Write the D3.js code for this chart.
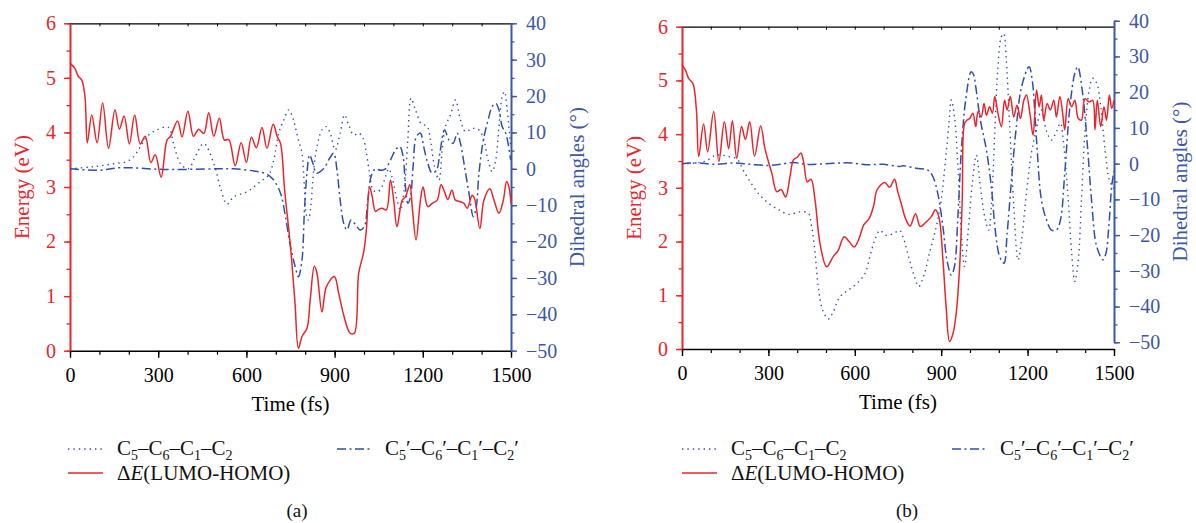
<!DOCTYPE html>
<html>
<head>
<meta charset="utf-8">
<script src="https://cdn.jsdelivr.net/npm/d3@7"></script>
<style>
  html, body { margin: 0; padding: 0; background: #fff; }
  svg { display: block; }
  svg text { font-family: "Liberation Serif", "DejaVu Serif", serif !important; }
</style>
</head>
<body>
<svg id="chart" width="1196" height="523"></svg>
<script>
// ---- data: time (fs), energy gap (eV), dihedral angles (deg) ----
const timeTicks = [0, 300, 600, 900, 1200, 1500];
const energyTicks = [0, 1, 2, 3, 4, 5, 6];
const angleTicks = [-50, -40, -30, -20, -10, 0, 10, 20, 30, 40];

// panel (a)
const aGapTime = [0, 17, 28, 40, 51, 59, 74, 92, 111, 131, 153, 168, 184, 202, 220, 239, 256, 275, 290, 310, 330, 341, 366, 381, 401, 420, 438, 455, 472, 489, 508, 525, 540, 562, 582, 600, 617, 634, 653, 670, 691, 705, 716, 730, 750, 765, 777, 789, 806, 817, 831, 840, 857, 872, 899, 914, 931, 953, 967, 982, 999, 1008, 1019, 1027, 1039, 1047, 1061, 1076, 1090, 1101, 1112, 1130, 1141, 1156, 1164, 1177, 1192, 1201, 1217, 1232, 1249, 1262, 1274, 1285, 1299, 1311, 1328, 1340, 1351, 1368, 1376, 1394, 1408, 1428, 1442, 1459, 1474, 1485, 1493, 1500];
const aGap = [5.27, 5.17, 5.03, 4.96, 4.65, 3.81, 4.32, 3.81, 4.54, 3.71, 4.41, 4.06, 4.30, 3.79, 4.32, 3.79, 3.93, 3.45, 3.59, 3.18, 3.86, 3.92, 4.21, 3.92, 4.39, 3.93, 4.06, 3.98, 4.36, 3.93, 4.26, 3.86, 3.87, 3.39, 3.81, 3.45, 3.91, 3.72, 4.09, 3.71, 4.15, 3.92, 3.80, 2.95, 1.90, 0.90, 0.04, 0.26, 0.41, 0.93, 1.55, 1.42, 0.71, 1.17, 1.36, 1.05, 0.65, 0.32, 0.32, 1.42, 1.81, 2.21, 3.00, 2.85, 2.55, 2.58, 2.61, 2.58, 3.13, 2.76, 2.27, 2.76, 2.82, 3.04, 2.64, 2.03, 2.76, 3.00, 2.64, 2.70, 2.76, 3.04, 2.91, 2.77, 2.94, 2.76, 2.73, 2.70, 2.61, 2.85, 2.79, 2.24, 2.76, 2.97, 2.76, 2.52, 2.76, 3.10, 3.00, 2.70];

const aC5Time = [0, 68, 102, 148, 193, 216, 239, 261, 295, 335, 352, 375, 402, 430, 455, 489, 511, 534, 557, 602, 648, 676, 693, 710, 727, 744, 758, 766, 777, 789, 797, 803, 811, 819, 826, 834, 845, 857, 872, 885, 902, 919, 934, 948, 965, 982, 997, 1008, 1019, 1031, 1047, 1061, 1073, 1084, 1095, 1110, 1124, 1138, 1149, 1160, 1175, 1194, 1215, 1226, 1240, 1255, 1266, 1277, 1295, 1311, 1328, 1345, 1368, 1391, 1408, 1422, 1436, 1448, 1459, 1470, 1478, 1487, 1499];
const aC5 = [0, 0.5, 0.8, 1.4, 2.0, 3.3, 6.0, 8.8, 10.7, 11.4, 7.0, 1.5, 0, 4.0, 7.0, 1.5, -5.0, -9.7, -7.7, -6.3, -3.5, -1.7, 2.4, 9.8, 13.4, 16.2, 14.0, 11.6, 7.9, 4.3, -4.9, -12.2, -14.1, -10.4, -3.1, 3.3, 7.9, 10.7, 11.6, 9.8, 5.2, 9.8, 14.8, 12.0, 9.3, 9.8, 8.4, 4.3, -1.2, -5.8, -6.3, -4.9, -2.2, 0, -2.2, -7.7, -11.3, -4.9, 7.9, 19.4, 16.2, 12.5, 11.6, 7.9, 0.6, -3.1, 5.2, 11.6, 15.0, 18.9, 13.4, 10.2, 11.1, 10.7, 7.9, 2.4, -0.8, 2.4, 11.6, 19.8, 21.2, 16.2, 6.1];

const aC5pTime = [0, 102, 170, 330, 500, 557, 625, 670, 693, 716, 733, 750, 766, 777, 789, 797, 806, 815, 826, 838, 851, 868, 883, 897, 908, 919, 931, 942, 956, 970, 987, 1001, 1013, 1024, 1039, 1056, 1073, 1090, 1107, 1122, 1133, 1141, 1149, 1158, 1167, 1178, 1192, 1203, 1217, 1232, 1247, 1258, 1274, 1289, 1303, 1317, 1328, 1342, 1357, 1372, 1382, 1391, 1406, 1422, 1436, 1448, 1459, 1470, 1482, 1490, 1499];
const aC5p = [0, -0.4, 0.3, -0.2, 0, 0, -0.6, -1.5, -3.1, -6.7, -13.2, -21.4, -26.9, -29.7, -25.1, -12.2, -1.2, 3.8, 1.5, -1.2, -0.8, 0.6, 2.9, 4.3, -0.3, -8.6, -15.0, -16.8, -14.1, -15.2, -16.8, -15.9, -8.6, -2.2, 0, -0.4, 0, 2.4, 5.2, 6.1, 3.3, -4.9, -9.5, -7.7, 0.6, 8.8, 9.8, 6.1, 1.5, -1.2, -0.3, 4.3, 10.7, 7.9, 7.0, 9.8, 7.0, 0.6, -6.7, -13.2, -10.4, -1.2, 7.9, 13.4, 17.1, 18.0, 16.2, 11.6, 9.8, 7.0, 2.4];

// panel (b)
const bGapTime = [0, 12, 23, 38, 50, 58, 75, 89, 110, 128, 147, 162, 175, 190, 207, 220, 235, 252, 273, 288, 300, 312, 329, 344, 360, 375, 387, 400, 413, 423, 435, 448, 462, 479, 502, 525, 542, 563, 580, 598, 615, 631, 650, 666, 677, 704, 721, 738, 749, 761, 776, 792, 811, 827, 845, 865, 880, 892, 906, 917, 929, 941, 952, 964, 973, 981, 989, 999, 1010, 1020, 1028, 1039, 1049, 1057, 1068, 1078, 1086, 1097, 1109, 1120, 1129, 1140, 1152, 1163, 1175, 1187, 1196, 1208, 1219, 1231, 1240, 1248, 1256, 1268, 1279, 1291, 1300, 1312, 1321, 1329, 1341, 1353, 1364, 1376, 1387, 1399, 1414, 1426, 1434, 1442, 1454, 1465, 1474, 1484, 1492, 1500];
const bGap = [5.29, 5.19, 5.04, 4.94, 4.45, 3.58, 4.19, 3.67, 4.42, 3.49, 4.23, 3.73, 4.25, 3.55, 4.14, 3.90, 4.23, 3.59, 4.15, 3.73, 3.49, 3.27, 2.93, 2.97, 2.83, 3.21, 3.52, 3.57, 3.65, 3.46, 3.11, 3.16, 2.77, 1.97, 1.53, 1.72, 1.83, 2.09, 2.00, 1.90, 2.06, 2.31, 2.43, 2.68, 2.96, 3.10, 3.01, 3.16, 2.93, 2.71, 2.43, 2.29, 2.52, 2.28, 2.35, 2.46, 2.59, 2.46, 1.66, 0.79, 0.14, 0.29, 0.66, 1.53, 2.77, 4.20, 4.26, 4.29, 4.39, 4.14, 4.42, 4.32, 4.57, 4.35, 4.51, 4.39, 4.70, 4.39, 4.14, 4.63, 4.45, 4.70, 4.32, 4.54, 4.29, 4.63, 4.73, 4.39, 3.98, 4.82, 4.51, 4.73, 4.26, 4.57, 4.45, 4.63, 4.32, 4.70, 4.42, 4.08, 4.66, 4.51, 4.63, 4.29, 4.26, 4.66, 4.60, 4.63, 4.08, 4.63, 4.14, 4.51, 4.26, 4.73, 4.48, 4.63];

const bC5Time = [0, 63, 87, 115, 144, 167, 190, 213, 237, 271, 306, 340, 369, 410, 438, 450, 462, 473, 488, 508, 525, 548, 577, 606, 635, 652, 669, 687, 710, 733, 756, 767, 790, 807, 822, 842, 859, 883, 900, 915, 927, 935, 946, 958, 970, 981, 993, 1008, 1022, 1036, 1051, 1065, 1074, 1086, 1097, 1109, 1117, 1126, 1138, 1152, 1167, 1179, 1196, 1213, 1231, 1248, 1266, 1283, 1300, 1314, 1326, 1341, 1353, 1364, 1376, 1387, 1399, 1414, 1426, 1440, 1454, 1469, 1484, 1500];
const bC5 = [0, 0.3, 0.9, 2.3, 2.3, 1.9, 1.4, -1.9, -5.1, -8.9, -11.4, -13.1, -14.2, -13.5, -13.8, -17.5, -25.0, -34.3, -40.9, -43.5, -41.5, -37.3, -35.4, -33.6, -30.8, -26.1, -21.5, -18.7, -20.1, -19.6, -18.7, -20.4, -27.0, -31.6, -34.4, -30.7, -25.1, -17.6, -10.2, 1.0, 11.3, 17.8, 13.2, -0.8, -19.5, -28.8, -19.5, -5.5, 2.4, -6.4, -14.8, -18.6, -12.0, 8.5, 27.1, 35.5, 36.4, 29.0, 10.4, -12.0, -27.0, -21.4, -8.3, 2.9, 9.9, 15.0, 9.0, 6.6, 9.0, 11.3, 4.8, -10.2, -25.1, -33.0, -27.0, -10.2, 8.5, 20.6, 23.9, 22.5, 16.0, 3.8, -4.6, -7.0];

const bC5pTime = [0, 52, 110, 179, 237, 300, 340, 387, 433, 525, 583, 640, 698, 756, 767, 813, 854, 871, 888, 906, 920, 935, 946, 958, 970, 985, 1004, 1012, 1020, 1036, 1057, 1074, 1089, 1103, 1118, 1129, 1144, 1161, 1179, 1205, 1216, 1231, 1248, 1266, 1283, 1300, 1314, 1329, 1347, 1364, 1374, 1391, 1407, 1422, 1440, 1462, 1472, 1482, 1492, 1500];
const bC5p = [0, 0.2, -0.2, 0.2, -0.2, -0.5, -0.2, 0.3, -0.2, 0.1, 0.2, -0.3, -0.2, -0.8, -0.6, -1.3, -1.8, -3.6, -8.3, -17.6, -27.0, -31.2, -28.8, -14.8, 3.8, 17.8, 25.7, 25.0, 21.5, 12.2, 3.8, -6.4, -19.5, -26.0, -27.9, -19.5, -4.6, 10.4, 21.5, 27.1, 23.4, 6.6, -10.2, -15.8, -18.6, -18.6, -15.8, -2.7, 16.0, 25.3, 27.1, 19.7, 5.7, -10.2, -23.2, -26.9, -25.1, -17.6, -6.4, -2.0];

// ---- styling ----
const RED = "#e8262b";
const BLUE_AXIS = "#3d58a6";
const BLUE_LINE = "#2f4fae";
const SERIF = "'Liberation Serif', 'DejaVu Serif', serif";
const FONT_TICK = 20;
const FONT_TITLE = 21;

const svg = d3.select("#chart");
const intFmt = d => String(d);
const angleFmt = d => d < 0 ? "\u2212" + Math.abs(d) : String(d);

function styleTicks(sel, color) {
  sel.selectAll(".tick text").attr("fill", color).attr("font-size", FONT_TICK)
    .style("font-family", SERIF);
}

function drawPanel(p) {
  const g = svg.append("g").style("font-family", SERIF);
  const x = d3.scaleLinear().domain([0, 1500]).range([p.x0, p.x1]);
  const yE = d3.scaleLinear().domain([0, 6]).range([p.yBot, p.yTop]);
  const yA = d3.scaleLinear().domain([-50, 40]).range([p.rBot, p.rTop]);

  // top frame line with small inward ticks
  const top = g.append("g").attr("transform", `translate(0,${p.yTop})`)
    .call(d3.axisTop(x).tickValues(d3.range(0, 1501, 100)).tickSize(-3).tickSizeOuter(0).tickFormat(""));
  top.select(".domain").attr("stroke", "#000").attr("stroke-width", 1.3);
  top.selectAll(".tick line").attr("stroke", "#000").attr("stroke-width", 1);

  // bottom axis: minor then major ticks
  const botMinor = g.append("g").attr("transform", `translate(0,${p.yBot})`)
    .call(d3.axisBottom(x).tickValues(d3.range(0, 1501, 100)).tickSize(4).tickSizeOuter(0).tickFormat(""));
  botMinor.select(".domain").attr("stroke", "#000").attr("stroke-width", 1.5);
  botMinor.selectAll(".tick line").attr("stroke", "#000").attr("stroke-width", 1.2);
  const bot = g.append("g").attr("transform", `translate(0,${p.yBot})`)
    .call(d3.axisBottom(x).tickValues(timeTicks).tickSize(7).tickPadding(10).tickSizeOuter(0).tickFormat(intFmt));
  bot.select(".domain").remove();
  bot.selectAll(".tick line").attr("stroke", "#000").attr("stroke-width", 1.4);
  styleTicks(bot, "#000");

  // left energy axis
  const leftMinor = g.append("g").attr("transform", `translate(${p.x0},0)`)
    .call(d3.axisLeft(yE).tickValues(d3.range(0, 6.01, 0.5)).tickSize(3.5).tickSizeOuter(0).tickFormat(""));
  leftMinor.select(".domain").attr("stroke", RED).attr("stroke-width", 2);
  leftMinor.selectAll(".tick line").attr("stroke", RED).attr("stroke-width", 1.3);
  const left = g.append("g").attr("transform", `translate(${p.x0},0)`)
    .call(d3.axisLeft(yE).tickValues(energyTicks).tickSize(6).tickPadding(8).tickSizeOuter(0).tickFormat(intFmt));
  left.select(".domain").remove();
  left.selectAll(".tick line").attr("stroke", RED).attr("stroke-width", 1.4);
  styleTicks(left, RED);

  // right dihedral-angle axis
  const rightMinor = g.append("g").attr("transform", `translate(${p.x1},0)`)
    .call(d3.axisRight(yA).tickValues(d3.range(-50, 40.01, 5)).tickSize(3.5).tickSizeOuter(0).tickFormat(""));
  rightMinor.select(".domain").attr("stroke", BLUE_AXIS).attr("stroke-width", 2);
  rightMinor.selectAll(".tick line").attr("stroke", BLUE_AXIS).attr("stroke-width", 1.3);
  const right = g.append("g").attr("transform", `translate(${p.x1},0)`)
    .call(d3.axisRight(yA).tickValues(angleTicks).tickSize(6).tickPadding(9).tickSizeOuter(0).tickFormat(angleFmt));
  right.select(".domain").remove();
  right.selectAll(".tick line").attr("stroke", BLUE_AXIS).attr("stroke-width", 1.4);
  styleTicks(right, BLUE_AXIS);

  // curves
  const smooth = d3.curveCatmullRom.alpha(0.5);
  const lineE = d3.line().x(d => x(d[0])).y(d => yE(d[1])).curve(smooth);
  const lineA = d3.line().x(d => x(d[0])).y(d => yA(d[1])).curve(smooth);

  g.append("path").datum(d3.zip(p.c5Time, p.c5))
    .attr("d", lineA).attr("fill", "none").attr("stroke", BLUE_LINE)
    .attr("stroke-width", 1.4).attr("stroke-dasharray", "1.4 4");
  g.append("path").datum(d3.zip(p.c5pTime, p.c5p))
    .attr("d", lineA).attr("fill", "none").attr("stroke", BLUE_LINE)
    .attr("stroke-width", 1.5).attr("stroke-dasharray", "9 3.5 2 3.5");
  g.append("path").datum(d3.zip(p.gapTime, p.gap))
    .attr("d", lineE).attr("fill", "none").attr("stroke", RED)
    .attr("stroke-width", 1.5);

  // axis titles
  const midE = (p.yTop + p.yBot) / 2;
  g.append("text").attr("transform", `translate(${p.x0 - 48},${midE}) rotate(-90)`)
    .attr("text-anchor", "middle").attr("dy", "0.35em")
    .attr("fill", RED).attr("font-size", FONT_TITLE).text("Energy (eV)");
  const midA = (p.rTop + p.rBot) / 2;
  g.append("text").attr("transform", `translate(${p.x1 + 66},${midA}) rotate(-90)`)
    .attr("text-anchor", "middle").attr("dy", "0.35em")
    .attr("fill", BLUE_AXIS).attr("font-size", FONT_TITLE).text("Dihedral angles (\u00B0)");
  g.append("text").attr("x", (p.x0 + p.x1) / 2).attr("y", p.yBot + 60)
    .attr("text-anchor", "middle").attr("fill", "#000").attr("font-size", FONT_TITLE)
    .text("Time (fs)");

  // legend
  const lg = g.append("g");
  const row1 = 449, row2 = 473;
  const s1 = p.legX, s2 = p.legX2;
  lg.append("line").attr("x1", s1).attr("x2", s1 + 35).attr("y1", row1).attr("y2", row1)
    .attr("stroke", BLUE_LINE).attr("stroke-width", 1.4).attr("stroke-dasharray", "1.4 4");
  lg.append("line").attr("x1", s2).attr("x2", s2 + 35).attr("y1", row1).attr("y2", row1)
    .attr("stroke", BLUE_LINE).attr("stroke-width", 1.5).attr("stroke-dasharray", "9 3.5 2 3.5");
  lg.append("line").attr("x1", s1).attr("x2", s1 + 35).attr("y1", row2).attr("y2", row2)
    .attr("stroke", RED).attr("stroke-width", 1.6);

  // C5–C6–C1–C2 with subscript atom numbers; primed variant adds a prime after each
  function dihedralLabel(xPos, prime) {
    const t = lg.append("text").attr("x", xPos).attr("y", row1 + 6)
      .attr("font-size", FONT_TITLE).attr("fill", "#111");
    const subs = ["5", "6", "1", "2"];
    const shift = 5;
    const mark = prime ? "\u2032" : "";
    subs.forEach((s, i) => {
      const base = i === 0 ? "C" : mark + "\u2013C";
      t.append("tspan").attr("dy", i === 0 ? 0 : -shift).text(base);
      t.append("tspan").attr("dy", shift).attr("font-size", 14).text(s);
    });
    if (prime) t.append("tspan").attr("dy", -shift).text(mark);
  }
  dihedralLabel(s1 + 49, false);
  dihedralLabel(s2 + 48, true);

  const dE = lg.append("text").attr("x", s1 + 49).attr("y", row2 + 7)
    .attr("font-size", FONT_TITLE).attr("fill", "#111");
  dE.append("tspan").text("\u0394");
  dE.append("tspan").attr("font-style", "italic").text("E");
  dE.append("tspan").text("(LUMO-HOMO)");

  g.append("text").attr("x", p.capX).attr("y", 517).attr("text-anchor", "middle")
    .attr("font-size", FONT_TITLE - 2).attr("fill", "#111").text(p.caption);
}

drawPanel({
  x0: 70, x1: 511, yTop: 23.3, yBot: 350.7, rTop: 23.3, rBot: 350.7,
  gapTime: aGapTime, gap: aGap, c5Time: aC5Time, c5: aC5, c5pTime: aC5pTime, c5p: aC5p,
  legX: 68, legX2: 337, capX: 297, caption: "(a)"
});
drawPanel({
  x0: 682, x1: 1114, yTop: 26.7, yBot: 349, rTop: 20.7, rBot: 342.3,
  gapTime: bGapTime, gap: bGap, c5Time: bC5Time, c5: bC5, c5pTime: bC5pTime, c5p: bC5p,
  legX: 682, legX2: 952, capX: 907, caption: "(b)"
});
</script>
</body>
</html>
